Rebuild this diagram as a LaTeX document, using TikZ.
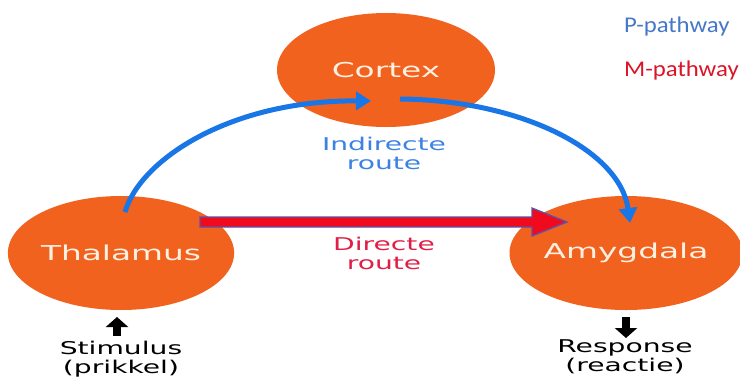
\documentclass[tikz,border=0pt]{standalone}
\usepackage{fontspec}
\usetikzlibrary{arrows.meta,shapes.geometric}
\newfontfamily\vwfont[FakeStretch=1.6]{DejaVu Sans}
\newfontfamily\legfont[FakeStretch=1.1]{Carlito}
\definecolor{orng}{RGB}{240,98,30}
\definecolor{lbl}{RGB}{255,240,225}
\definecolor{barrow}{RGB}{25,118,230}
\definecolor{btext}{RGB}{60,130,228}
\definecolor{rtext}{RGB}{225,30,70}
\definecolor{rband}{RGB}{240,10,30}
\definecolor{rline}{RGB}{95,80,170}
\definecolor{plegend}{RGB}{70,120,200}
\definecolor{mlegend}{RGB}{220,20,40}
\tikzset{
  region/.style={ellipse, fill=orng, draw=none, inner sep=0pt,
    minimum width=218pt, minimum height=114pt, text=lbl,
    font=\vwfont\fontsize{20.5}{22}\selectfont},
  smalltext/.style={align=center, inner sep=0pt,
    font=\vwfont\fontsize{17.6}{19}\selectfont},
  bluearrow/.style={draw=barrow, line width=5pt,
    -{Triangle[length=15pt,width=18pt]}},
  redarrow/.style={fill=rband, draw=rline, line width=1.3pt, line join=miter},
  blockarrow/.style={draw=black, line width=7.5pt,
    -{Triangle[length=10pt,width=22pt]}},
  legend/.style={anchor=base west, inner sep=0pt,
    font=\legfont\fontsize{22.5}{24}\selectfont}
}
\begin{document}
\begin{tikzpicture}[x=1pt,y=-1pt]
\useasboundingbox[fill=white] (0,0) rectangle (740,381);
% regions
\node[region] (cortex) at (386,70) {Cortex};
\node[region] (thal) at (121,253) {Thalamus};
\node[region] (amyg) at (626,253) {Amygdala};
% labels
\node[smalltext, text=btext] (indir) at (384,153) {Indirecte\\route};
\node[smalltext, text=rtext] (dir) at (384,253) {Directe\\route};
\node[smalltext, text=black] (stim) at (121,359) {Stimulus\\(prikkel)};
\node[smalltext, text=black] (resp) at (625,357) {Response\\(reactie)};
\node[legend, text=plegend] (pleg) at (624,32) {P-pathway};
\node[legend, text=mlegend] (mleg) at (624,76) {M-pathway};
% connector end points
\coordinate (a1s) at (125,212);
\coordinate (a1e) at (371,101);
\coordinate (a2s) at (400,99);
\coordinate (a2e) at (630,223);
\coordinate (rs) at (200,222);
\coordinate (re) at (567,222);
\coordinate (ss) at (117,336);
\coordinate (se) at (117,317);
\coordinate (qs) at (626,317);
\coordinate (qe) at (626,338);
% indirect route
\draw[bluearrow] (a1s) .. controls (140,160) and (230,100) .. (a1e);
\draw[bluearrow] (a2s) .. controls (520,100) and (620,150) .. (a2e);
% direct route
\draw[redarrow] ([yshift=5pt]rs) -- ([xshift=-35pt,yshift=5pt]re)
  -- ([xshift=-35pt,yshift=14pt]re) -- (re)
  -- ([xshift=-35pt,yshift=-14pt]re) -- ([xshift=-35pt,yshift=-5pt]re)
  -- ([yshift=-5pt]rs) -- cycle;
% stimulus / response
\draw[blockarrow] (ss) -- (se);
\draw[blockarrow] (qs) -- (qe);
\end{tikzpicture}
\end{document}
